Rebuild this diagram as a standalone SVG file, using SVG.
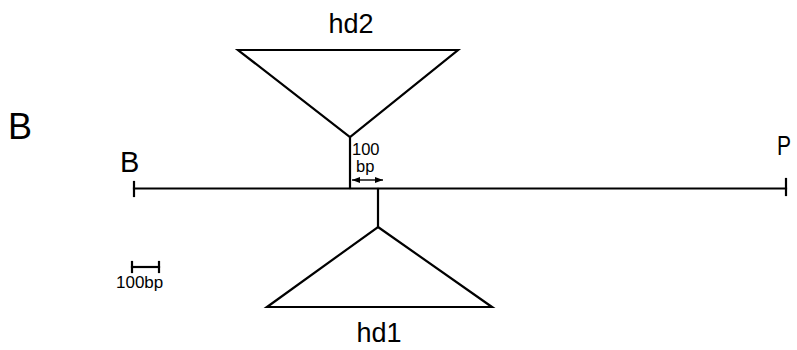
<svg xmlns="http://www.w3.org/2000/svg" width="797" height="350" viewBox="0 0 797 350">
  <defs>
    <style>
      .ln { stroke: #000; stroke-width: 2.2; fill: none; stroke-linecap: square; }
      .thin { stroke: #000; stroke-width: 1.4; fill: none; }
      .lbl { font-family: "Liberation Sans", Arial, sans-serif; fill: #000; }
    </style>
    <marker id="ah" viewBox="0 0 8 6" refX="8" refY="3" markerWidth="8" markerHeight="6" markerUnits="userSpaceOnUse" orient="auto-start-reverse">
      <path d="M0,0 L8,3 L0,6 Z" fill="#000"/>
    </marker>
  </defs>
  <rect width="797" height="350" fill="#fff"/>

  <text class="lbl" x="8" y="139" font-size="36">B</text>

  <g id="backbone">
    <line class="ln" x1="134" y1="188.5" x2="786" y2="188.5"/>
    <line class="ln" x1="134" y1="182" x2="134" y2="196"/>
    <line class="ln" x1="786" y1="179" x2="786" y2="195"/>
    <text class="lbl" x="120" y="172" font-size="29">B</text>
    <text class="lbl" x="777" y="155" font-size="28" textLength="14" lengthAdjust="spacingAndGlyphs">P</text>
  </g>

  <g id="hd2">
    <polygon class="ln" points="238,50 458,50 350,137" stroke-linejoin="miter"/>
    <text class="lbl" x="351" y="33" font-size="27" text-anchor="middle">hd2</text>
  </g>

  <g id="hd1">
    <polygon class="ln" points="378,227 492,307 267,307"/>
    <text class="lbl" x="379" y="342" font-size="27" text-anchor="middle">hd1</text>
  </g>

  <g id="connectors">
    <line class="ln" x1="350" y1="137" x2="350" y2="188"/>
    <line class="ln" x1="378" y1="189" x2="378" y2="227"/>
    <line class="thin" x1="352" y1="180" x2="383" y2="180" marker-start="url(#ah)" marker-end="url(#ah)"/>
    <text class="lbl" x="352" y="155" font-size="16.5">100</text>
    <text class="lbl" x="356" y="172" font-size="16.5">bp</text>
  </g>

  <g id="scale">
    <line class="ln" x1="132" y1="267" x2="159" y2="267"/>
    <line class="ln" x1="132" y1="262" x2="132" y2="272"/>
    <line class="ln" x1="159" y1="262" x2="159" y2="272"/>
    <text class="lbl" x="116" y="288" font-size="17">100bp</text>
  </g>
</svg>
